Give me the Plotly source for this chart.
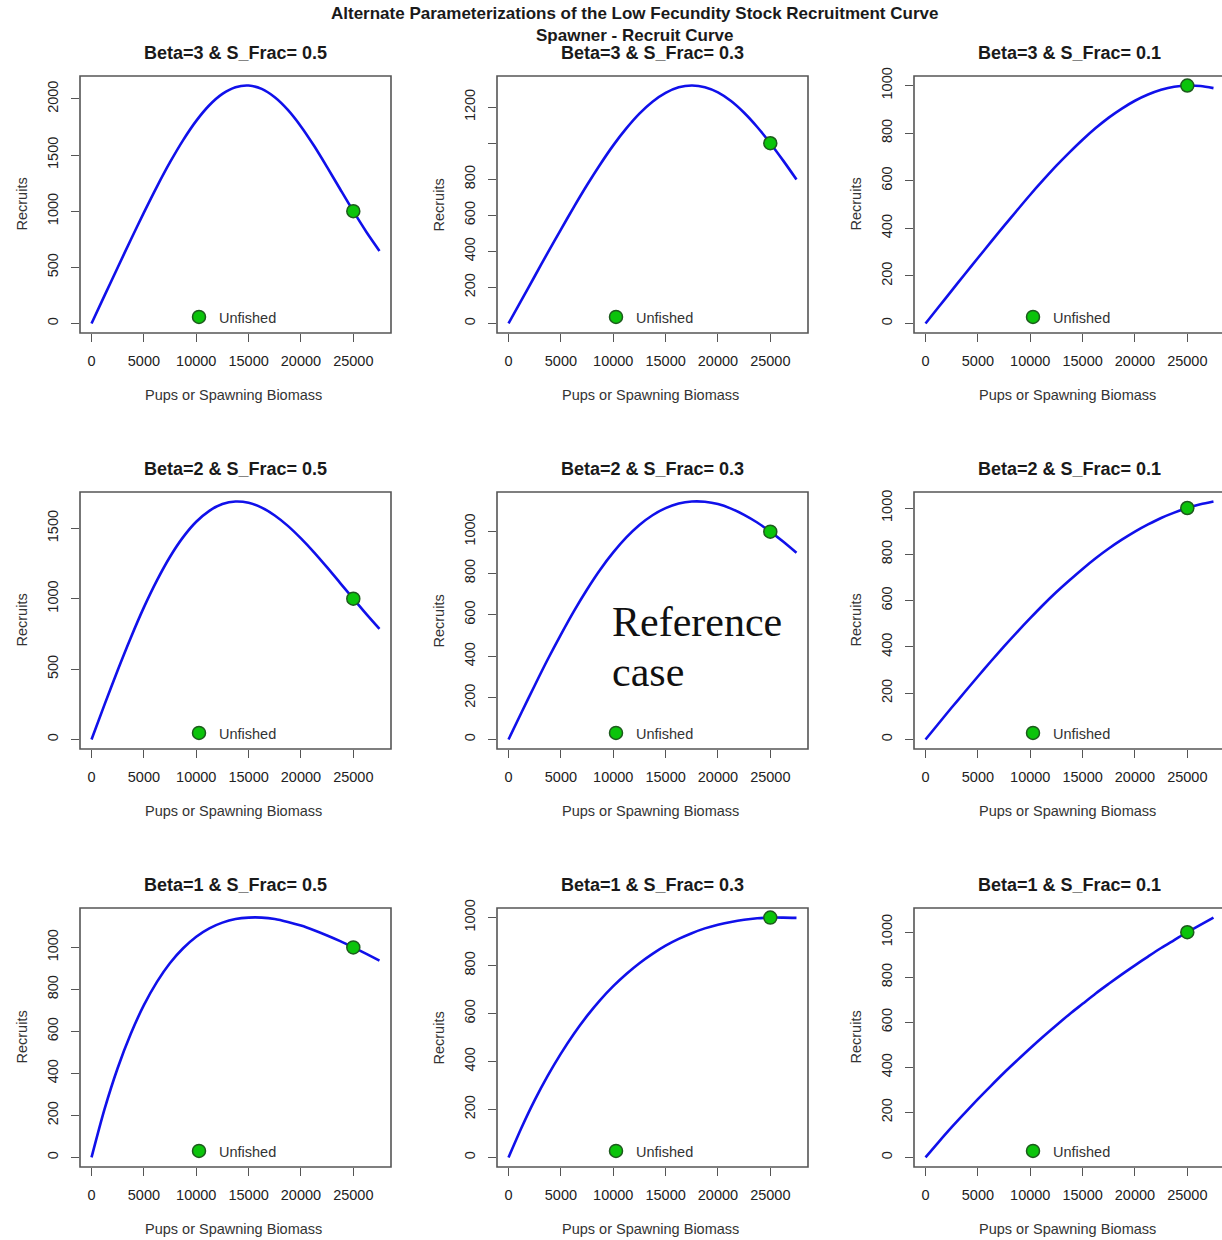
import plotly.graph_objects as go

W, H = 1222, 1240
FONT = "Liberation Sans, Arial, sans-serif"

MAIN_TITLE = "Alternate Parameterizations of the Low Fecundity Stock Recruitment Curve"
SUB_TITLE = "Spawner - Recruit Curve"
X_LABEL = "Pups or Spawning Biomass"
Y_LABEL = "Recruits"
LEGEND_LABEL = "Unfished"
NOTE_LINE1 = "Reference"
NOTE_LINE2 = "case"

panel_titles = [
    "Beta=3 & S_Frac= 0.5", "Beta=3 & S_Frac= 0.3", "Beta=3 & S_Frac= 0.1",
    "Beta=2 & S_Frac= 0.5", "Beta=2 & S_Frac= 0.3", "Beta=2 & S_Frac= 0.1",
    "Beta=1 & S_Frac= 0.5", "Beta=1 & S_Frac= 0.3", "Beta=1 & S_Frac= 0.1",
]

# spawning biomass (x) shared by all panels
spawners = [0, 1250, 2500, 3750, 5000, 6250, 7500, 8750, 10000, 11250, 12500, 13750,
            15000, 16250, 17500, 18750, 20000, 21250, 22500, 23750, 25000, 26250, 27500]

# recruits
recruits_b3_s05 = [0, 250, 499, 746, 987, 1219, 1436, 1633, 1804, 1943, 2044, 2104,
                   2119, 2089, 2015, 1902, 1755, 1582, 1392, 1195, 1000, 815, 646]
recruits_b3_s03 = [0, 131, 262, 393, 521, 647, 768, 882, 988, 1082, 1164, 1230,
                   1279, 1310, 1320, 1311, 1282, 1234, 1169, 1090, 1000, 902, 799]
recruits_b3_s01 = [0, 69, 138, 207, 275, 343, 410, 476, 541, 603, 663, 719,
                   772, 821, 865, 903, 936, 962, 982, 995, 1000, 998, 989]
recruits_b2_s05 = [0, 249, 492, 723, 938, 1130, 1298, 1437, 1546, 1624, 1672, 1690,
                   1681, 1647, 1591, 1517, 1428, 1329, 1222, 1111, 1000, 890, 785]
recruits_b2_s03 = [0, 131, 260, 386, 505, 618, 722, 817, 900, 972, 1032, 1079,
                   1113, 1135, 1145, 1144, 1133, 1111, 1081, 1044, 1000, 951, 898]
recruits_b2_s01 = [0, 69, 138, 205, 272, 338, 402, 464, 524, 582, 637, 688,
                   737, 783, 825, 863, 898, 929, 957, 980, 1000, 1016, 1028]
recruits_b1_s05 = [0, 231, 426, 589, 725, 836, 926, 996, 1051, 1091, 1118, 1135,
                   1142, 1142, 1135, 1121, 1104, 1082, 1057, 1030, 1000, 969, 937]
recruits_b1_s03 = [0, 125, 239, 341, 433, 516, 590, 656, 714, 765, 810, 849,
                   883, 911, 935, 955, 970, 982, 991, 997, 1000, 1000, 999]
recruits_b1_s01 = [0, 68, 134, 197, 259, 318, 376, 431, 485, 537, 587, 636,
                   682, 728, 771, 813, 853, 892, 930, 965, 1000, 1033, 1065]

# unfished equilibrium point (same in every panel)
unfished_spawners = [25000]
unfished_recruits = [1000]

# tick labels
x_tick_vals = [0, 5000, 10000, 15000, 20000, 25000]
x_tick_text = ["0", "5000", "10000", "15000", "20000", "25000"]
y_ticks_500 = [0, 500, 1000, 1500, 2000]
y_ticks_500_text = ["0", "500", "1000", "1500", "2000"]
y_ticks_500b = [0, 500, 1000, 1500]
y_ticks_500b_text = ["0", "500", "1000", "1500"]
y_ticks_200_1200 = [0, 200, 400, 600, 800, 1000, 1200]
y_ticks_200_1200_text = ["0", "200", "400", "600", "800", "", "1200"]
y_ticks_200 = [0, 200, 400, 600, 800, 1000]
y_ticks_200_text = ["0", "200", "400", "600", "800", "1000"]

panel_series = [
    recruits_b3_s05, recruits_b3_s03, recruits_b3_s01,
    recruits_b2_s05, recruits_b2_s03, recruits_b2_s01,
    recruits_b1_s05, recruits_b1_s03, recruits_b1_s01,
]
panel_yticks = [
    (y_ticks_500, y_ticks_500_text), (y_ticks_200_1200, y_ticks_200_1200_text), (y_ticks_200, y_ticks_200_text),
    (y_ticks_500b, y_ticks_500b_text), (y_ticks_200, y_ticks_200_text), (y_ticks_200, y_ticks_200_text),
    (y_ticks_200, y_ticks_200_text), (y_ticks_200, y_ticks_200_text), (y_ticks_200, y_ticks_200_text),
]

# ---------------- layout geometry (pixels) ----------------
col_px = [(80, 391), (497, 808), (914, 1225)]
row_px = [(76, 333), (492, 749), (908, 1167)]


def px_x(p):
    return p / W


def px_y(p):
    return 1 - p / H


fig = go.Figure()
layout = dict(
    width=W, height=H, autosize=False,
    margin=dict(l=0, r=0, t=0, b=0, pad=0),
    paper_bgcolor="white", plot_bgcolor="white",
    font=dict(family=FONT, color="#222"),
    annotations=[], shapes=[],
)

TEXT_SIZE = 14.5

for i in range(9):
    r, c = divmod(i, 3)
    xa = "x" if i == 0 else f"x{i + 1}"
    ya = "y" if i == 0 else f"y{i + 1}"
    xkey = "xaxis" if i == 0 else f"xaxis{i + 1}"
    ykey = "yaxis" if i == 0 else f"yaxis{i + 1}"
    leg = "legend" if i == 0 else f"legend{i + 1}"

    left, right = col_px[c]
    top, bottom = row_px[r]
    vis_right = min(right, W)
    box_w = right - left
    dom_w = vis_right - left

    vals = panel_series[i]
    # R-style 4% padding of the data range
    x_lo, x_hi = min(spawners), max(spawners)
    xpad = 0.04 * (x_hi - x_lo)
    xr0, xr1 = x_lo - xpad, x_hi + xpad
    xr1_vis = xr0 + (xr1 - xr0) * dom_w / box_w
    y_lo = min(min(vals), min(unfished_recruits))
    y_hi = max(max(vals), max(unfished_recruits))
    ypad = 0.04 * (y_hi - y_lo)

    fig.add_trace(go.Scatter(
        x=spawners, y=vals, mode="lines", xaxis=xa, yaxis=ya,
        line=dict(color="#1010ea", width=2.6, shape="spline", smoothing=0.8),
        showlegend=False, hoverinfo="skip",
    ))
    fig.add_trace(go.Scatter(
        x=unfished_spawners, y=unfished_recruits, mode="markers", xaxis=xa, yaxis=ya,
        marker=dict(color="#0bc40b", size=13, line=dict(color="#1d5a1d", width=1.5)),
        name=LEGEND_LABEL, legend=leg, showlegend=True,
    ))

    axis_common = dict(
        showgrid=False, zeroline=False, showline=False,
        ticks="outside", ticklen=8, tickwidth=1.4, tickcolor="#555",
        tickfont=dict(family=FONT, size=TEXT_SIZE, color="#222"),
        ticklabelstandoff=7, automargin=False, fixedrange=True,
    )
    layout[xkey] = dict(
        axis_common, domain=[px_x(left), px_x(vis_right)], anchor=ya,
        range=[xr0, xr1_vis], tickmode="array", tickvals=x_tick_vals, ticktext=x_tick_text,
        tickangle=0,
    )
    yv, yt = panel_yticks[i]
    layout[ykey] = dict(
        axis_common, domain=[px_y(bottom), px_y(top)], anchor=xa,
        range=[y_lo - ypad, y_hi + ypad], tickmode="array", tickvals=yv, ticktext=yt,
        tickangle=-90,
    )

    # plot box
    layout["shapes"].append(dict(
        type="rect", xref=f"{xa} domain", yref=f"{ya} domain",
        x0=0, x1=box_w / dom_w, y0=0, y1=1,
        line=dict(color="#555", width=1.6), layer="above",
    ))

    cx = (left + right) / 2
    # panel title
    layout["annotations"].append(dict(
        text=f"<b>{panel_titles[i]}</b>", xref="paper", yref="paper",
        x=px_x(cx), y=px_y(top - 23), xanchor="center", yanchor="middle",
        showarrow=False, font=dict(family=FONT, size=18, color="#1a1a1a"),
    ))
    # x axis title
    layout["annotations"].append(dict(
        text=X_LABEL, xref="paper", yref="paper",
        x=px_x(cx - 2), y=px_y(bottom + 62), xanchor="center", yanchor="middle",
        showarrow=False, font=dict(family=FONT, size=TEXT_SIZE, color="#333"),
    ))
    # y axis title
    layout["annotations"].append(dict(
        text=Y_LABEL, xref="paper", yref="paper", textangle=-90,
        x=px_x(left - 59), y=px_y((top + bottom) / 2), xanchor="center", yanchor="middle",
        showarrow=False, font=dict(family=FONT, size=TEXT_SIZE, color="#333"),
    ))
    # legend ("Unfished") inside the panel, near the bottom
    layout[leg] = dict(
        x=px_x(left + 119 - 20), y=px_y(bottom - 16), xanchor="left", yanchor="middle",
        bgcolor="rgba(0,0,0,0)", borderwidth=0, itemclick=False, itemdoubleclick=False,
        font=dict(family=FONT, size=TEXT_SIZE, color="#333"),
        tracegroupgap=0,
    )

# main title (two lines)
layout["annotations"].append(dict(
    text=f"<b>{MAIN_TITLE}</b><br><b>{SUB_TITLE}</b>", xref="paper", yref="paper",
    x=px_x(634), y=px_y(25), xanchor="center", yanchor="middle",
    showarrow=False, font=dict(family=FONT, size=17, color="#1a1a1a"),
))
# "Reference case" note in centre panel
NOTE_FONT = dict(family="Liberation Serif, Times New Roman, serif", size=42, color="#111")
layout["annotations"].append(dict(
    text=NOTE_LINE1, xref="paper", yref="paper", align="left",
    x=px_x(610), y=px_y(622), xanchor="left", yanchor="middle",
    showarrow=False, font=NOTE_FONT,
))
layout["annotations"].append(dict(
    text=NOTE_LINE2, xref="paper", yref="paper", align="left",
    x=px_x(610), y=px_y(672), xanchor="left", yanchor="middle",
    showarrow=False, font=NOTE_FONT,
))

fig.update_layout(**layout)
fig.write_html("out.html", post_script="document.body.style.margin='0';",
               config={"displayModeBar": False})
